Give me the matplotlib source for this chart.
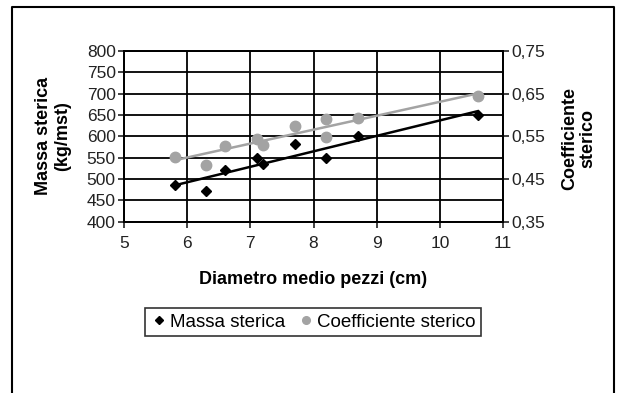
import numpy as np
import matplotlib
matplotlib.use("Agg")
import matplotlib.pyplot as plt
from matplotlib.lines import Line2D
from matplotlib.ticker import FuncFormatter

plt.rcParams["font.family"] = ["Liberation Sans", "DejaVu Sans"]

# Massa sterica (kg/mst), asse sinistro
diam_massa = [5.8, 6.3, 6.6, 7.1, 7.2, 7.7, 8.2, 8.7, 10.6]
massa = [487, 471, 520, 549, 536, 583, 549, 600, 651]

# Coefficiente sterico, asse destro
diam_coeff = [5.8, 6.3, 6.6, 7.1, 7.2, 7.7, 8.2, 8.2, 8.7, 10.6]
coeff = [0.501, 0.484, 0.527, 0.544, 0.530, 0.575, 0.591, 0.549, 0.594, 0.644]

x_ticks = [5, 6, 7, 8, 9, 10, 11]
left_ticks = [400, 450, 500, 550, 600, 650, 700, 750, 800]
right_ticks = [0.35, 0.45, 0.55, 0.65, 0.75]

GRAY = "#a3a3a3"

fig = plt.figure(figsize=(6.17, 3.93), dpi=100)
ax = fig.add_axes([124 / 617, 1 - 221.7 / 393, (503 - 124) / 617, (221.7 - 51) / 393])
ax2 = ax.twinx()

ax.set_xlim(5, 11)
ax.set_ylim(400, 800)
ax2.set_ylim(0.35, 0.75)
ax.set_xticks(x_ticks)
ax.set_yticks(left_ticks)
ax2.set_yticks(right_ticks)
ax2.yaxis.set_major_formatter(FuncFormatter(lambda v, _: f"{v:.2f}".replace(".", ",")))

ax.grid(True, color="black", linewidth=1.3)
ax.set_axisbelow(True)
for a in (ax, ax2):
    for s in a.spines.values():
        s.set_linewidth(1.3)
    a.tick_params(labelsize=12.5, length=4, width=1.2, colors="#222222", pad=2)
ax.tick_params(axis="x", pad=6)

# trend lines (linear fit, like the spreadsheet trendline)
xs = np.array([min(diam_massa), max(diam_massa)])
k, q = np.polyfit(diam_massa, massa, 1)
ax.plot(xs, k * xs + q, color="black", linewidth=1.8, zorder=3)
k2, q2 = np.polyfit(diam_coeff, coeff, 1)
ax2.plot(xs, k2 * xs + q2, color=GRAY, linewidth=1.8, zorder=3)

ax.plot(diam_massa, massa, "D", color="black", markersize=5, zorder=4)
ax2.plot(diam_coeff, coeff, "o", color=GRAY, markersize=7.5, zorder=2)

ax.set_xlabel("Diametro medio pezzi (cm)", fontsize=13, fontweight="bold", labelpad=15)
ax.set_ylabel("Massa sterica\n(kg/mst)", fontsize=13, fontweight="bold", labelpad=11,
              linespacing=1.15)
ax2.set_ylabel("Coefficiente\nsterico", fontsize=13, fontweight="bold", rotation=90,
               labelpad=6, linespacing=1.05)
ax2.yaxis.set_label_coords(1.155, 0.49)

handles = [
    Line2D([], [], marker="D", color="black", linestyle="none", markersize=4.5),
    Line2D([], [], marker="o", color=GRAY, linestyle="none", markersize=5.5),
]
leg = fig.legend(handles, ["Massa sterica", "Coefficiente sterico"], ncol=2,
                 loc="center", bbox_to_anchor=(313 / 617, 1 - 322 / 393),
                 fontsize=13.5, frameon=True, fancybox=False, edgecolor="black",
                 handletextpad=0.1, columnspacing=0.7, handlelength=0.9,
                 borderpad=0.3, borderaxespad=0)
leg.get_frame().set_linewidth(1.2)

# outer frame open at the bottom
fig.add_artist(Line2D([12 / 617, 12 / 617, 614 / 617, 614 / 617],
                      [0, 1 - 6.5 / 393, 1 - 6.5 / 393, 0],
                      color="black", linewidth=1.5, transform=fig.transFigure))

fig.savefig("out.png", dpi=100)
